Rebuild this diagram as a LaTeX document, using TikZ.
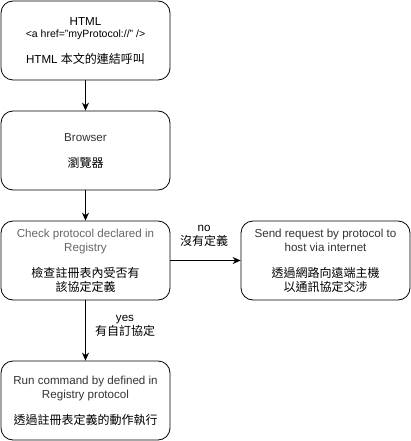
\documentclass[tikz,border=0pt]{standalone}
\usepackage{fontspec}
\setmainfont{Liberation Sans}
\newfontfamily\cjk{Noto Sans CJK TC}
\usetikzlibrary{arrows.meta}
\begin{document}
\begin{tikzpicture}[x=1pt,y=-1pt,
  box/.style={draw=black,line width=0.8pt,rounded corners=12pt,minimum width=169pt,minimum height=79pt,align=center,font=\fontsize{11.6}{14}\selectfont,inner sep=0pt},
  arr/.style={draw=black,line width=0.8pt,-{Stealth[length=8pt,width=7pt]}},
  lbl/.style={align=center,font=\fontsize{11.6}{14}\selectfont,inner sep=0pt}]
\useasboundingbox (0,0) rectangle (411,441);
\node[box] (html) at (85.5,40.5) {HTML\\[-2pt]{\fontsize{10.5}{12}\selectfont <a href="myProtocol://" />}\\[12pt]HTML {\cjk\fontsize{12}{14}\selectfont 本文的連結呼叫}};
\node[box] (browser) at (85.5,150.5) {\textcolor[HTML]{333333}{Browser}\\[12pt]{\cjk\fontsize{12}{14}\selectfont 瀏覽器}};
\node[box] (check) at (85.5,260.5) {\textcolor[HTML]{666666}{Check protocol declared in}\\\textcolor[HTML]{666666}{Registry}\\[12pt]{\cjk\fontsize{12}{14}\selectfont 檢查註冊表內受否有}\\{\cjk\fontsize{12}{14}\selectfont 該協定定義}};
\node[box] (send) at (325.5,260.5) {\textcolor[HTML]{333333}{Send request by protocol to}\\\textcolor[HTML]{333333}{host via internet}\\[12pt]{\cjk\fontsize{12}{14}\selectfont 透過網路向遠端主機}\\{\cjk\fontsize{12}{14}\selectfont 以通訊協定交涉}};
\node[box] (run) at (85.5,400.5) {\textcolor[HTML]{333333}{Run command by defined in}\\\textcolor[HTML]{333333}{Registry protocol}\\[12pt]{\cjk\fontsize{12}{14}\selectfont 透過註冊表定義的動作執行}};
\draw[arr] (html) -- (browser);
\draw[arr] (browser) -- (check);
\draw[arr] (check) -- (send);
\draw[arr] (check) -- (run);
\node[lbl] (nolbl) at (204,236) {no\\{\cjk\fontsize{12}{14}\selectfont 沒有定義}};
\node[lbl] (yeslbl) at (125,326) {yes\\{\cjk\fontsize{12}{14}\selectfont 有自訂協定}};
\end{tikzpicture}
\end{document}
